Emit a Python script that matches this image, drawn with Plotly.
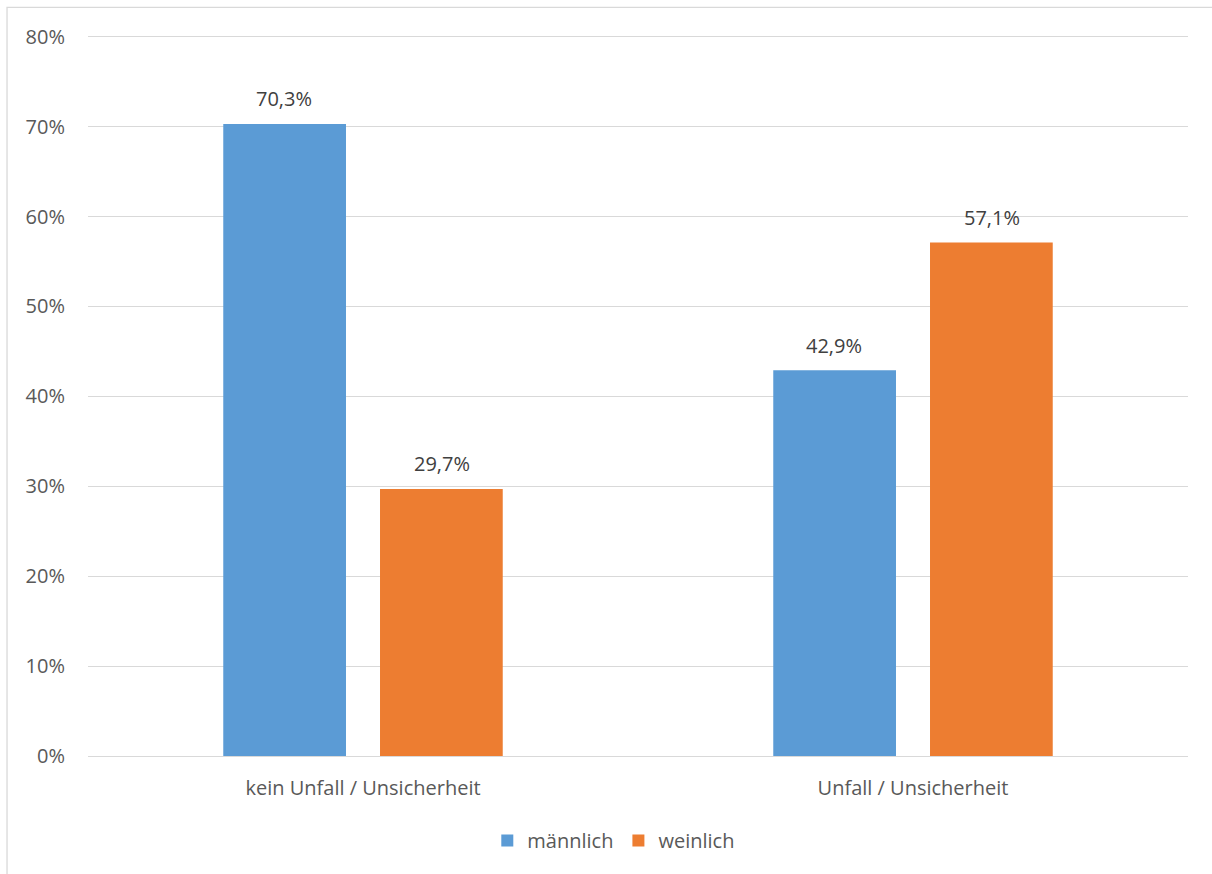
import plotly.graph_objects as go

categories = ["kein Unfall / Unsicherheit", "Unfall / Unsicherheit"]
maennlich = [0.703, 0.429]
weinlich = [0.297, 0.571]
series_names = ["männlich", "weinlich"]
y_ticks = [0, 0.1, 0.2, 0.3, 0.4, 0.5, 0.6, 0.7, 0.8]

BLUE = "#5B9BD5"
ORANGE = "#ED7D31"
TEXT = "#595959"
LABEL = "#404040"
GRID = "#D9D9D9"
FONT = "Open Sans"
SIZE = 20

fig = go.Figure()
series = [(series_names[0], maennlich, BLUE), (series_names[1], weinlich, ORANGE)]
for name, vals, col in series:
    fig.add_trace(go.Bar(
        x=categories, y=vals, name=name,
        marker=dict(color=col, line=dict(width=0)),
        offsetgroup=name,
    ))

# value labels above each bar, offset to the bar's slot within its group
slot = 0.286
for i, (name, vals, col) in enumerate(series):
    for j, v in enumerate(vals):
        fig.add_annotation(
            x=j + (i - 0.5) * slot, y=v, xref="x", yref="y",
            text=f"{v * 100:.1f}%".replace(".", ","),
            showarrow=False, yanchor="middle", yshift=25,
            font=dict(family=FONT, size=SIZE, color=LABEL),
        )

fig.update_layout(
    width=1212, height=874,
    margin=dict(l=88, r=24, t=34, b=118),
    paper_bgcolor="white", plot_bgcolor="white",
    separators=",.",
    barmode="group", bargap=0.43, bargroupgap=0.217,
    font=dict(family=FONT, size=SIZE, color=TEXT),
    showlegend=True,
    legend=dict(orientation="h", x=0.478, xanchor="center", y=-0.117, yanchor="middle",
                font=dict(family=FONT, size=SIZE, color=TEXT), itemwidth=30,
                traceorder="normal"),
    xaxis=dict(showgrid=False, showline=False, ticks="", ticklabelstandoff=18,
               tickfont=dict(family=FONT, size=SIZE, color=TEXT)),
    yaxis=dict(range=[0, 0.803], tickvals=y_ticks, tickformat=".0%",
               showgrid=True, gridcolor=GRID, gridwidth=1.3,
               zeroline=True, zerolinecolor=GRID, zerolinewidth=1.3,
               showline=False, ticks="", ticklabelstandoff=22,
               tickfont=dict(family=FONT, size=SIZE, color=TEXT)),
    shapes=[dict(type="rect", xref="paper", yref="paper",
                 x0=-0.0736, x1=1.03, y0=-0.18, y1=1.037,
                 line=dict(color=GRID, width=1.3), layer="below")],
)

fig.write_html("out.html")
